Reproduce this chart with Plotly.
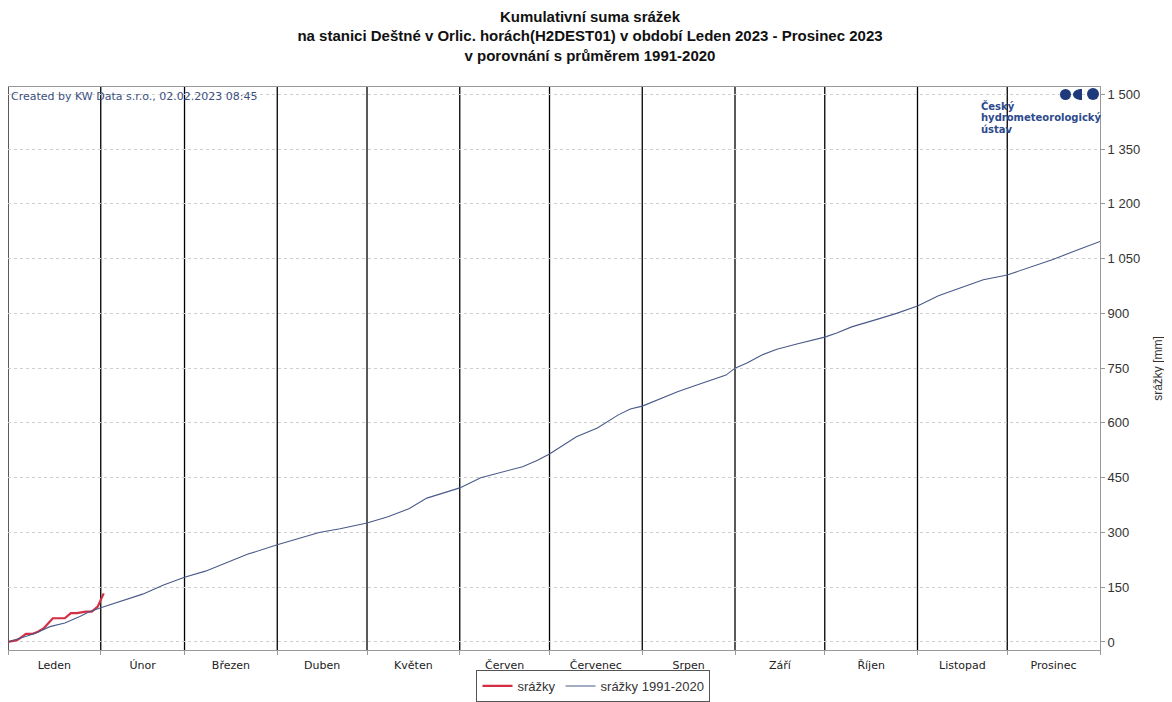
import pandas as pd
import plotly.graph_objects as go

# =====================================================
# Data
# =====================================================

# 2023 cumulative precipitation (mm)
rain_dates = [
    "2023-01-01", "2023-01-04", "2023-01-06", "2023-01-07", "2023-01-09",
    "2023-01-11", "2023-01-13", "2023-01-16", "2023-01-18", "2023-01-20",
    "2023-01-22", "2023-01-24", "2023-01-27", "2023-01-29", "2023-01-31",
    "2023-02-01", "2023-02-02",
]
rain_values = [0, 5, 16, 22, 22, 28, 38, 65, 65, 65, 79, 79, 83, 83, 97, 115, 133]

# 1991-2020 normal, cumulative (mm)
normal_dates = [
    "2023-01-01", "2023-01-05", "2023-01-10", "2023-01-15", "2023-01-20",
    "2023-01-25", "2023-01-28", "2023-02-01", "2023-02-08", "2023-02-15",
    "2023-02-22", "2023-03-01", "2023-03-08", "2023-03-15", "2023-03-22",
    "2023-04-01", "2023-04-08", "2023-04-15", "2023-04-22", "2023-05-01",
    "2023-05-08", "2023-05-15", "2023-05-21", "2023-06-01", "2023-06-08",
    "2023-06-15", "2023-06-22", "2023-06-27", "2023-07-01", "2023-07-10",
    "2023-07-17", "2023-07-24", "2023-07-28", "2023-08-01", "2023-08-06",
    "2023-08-13", "2023-08-19", "2023-08-24", "2023-08-29", "2023-09-01",
    "2023-09-05", "2023-09-10", "2023-09-15", "2023-09-22", "2023-10-01",
    "2023-10-05", "2023-10-10", "2023-10-19", "2023-10-25", "2023-11-01",
    "2023-11-08", "2023-11-15", "2023-11-23", "2023-12-01", "2023-12-08",
    "2023-12-16", "2023-12-24", "2023-12-31 23:59",
]
normal_values = [
    0, 10, 23, 42, 52, 70, 82, 94, 113, 131,
    156, 177, 194, 218, 240, 266, 284, 300, 310, 326,
    343, 365, 394, 422, 450, 465, 480, 498, 515, 562,
    586, 622, 638, 646, 662, 686, 703, 718, 731, 750,
    764, 786, 802, 817, 835, 846, 863, 885, 900, 920,
    948, 969, 992, 1005, 1024, 1047, 1072, 1097,
]

month_names = [
    "Leden", "Únor", "Březen", "Duben", "Květen", "Červen",
    "Červenec", "Srpen", "Září", "Říjen", "Listopad", "Prosinec",
]
y_ticks = [0, 150, 300, 450, 600, 750, 900, 1050, 1200, 1350, 1500]
y_tick_labels = ["0", "150", "300", "450", "600", "750", "900",
                 "1 050", "1 200", "1 350", "1 500"]
logo_lines = ["Český", "hydrometeorologický", "ústav"]

month_starts = pd.date_range("2023-01-01", periods=13, freq="MS")
month_mids = month_starts[:-1] + (month_starts[1:] - month_starts[:-1]) / 2

# =====================================================
# Figure
# =====================================================

fig = go.Figure()

fig.add_trace(
    go.Scatter(
        x=rain_dates,
        y=rain_values,
        name="srážky",
        mode="lines",
        line=dict(color="#d42e45", width=2.2),
    )
)

fig.add_trace(
    go.Scatter(
        x=normal_dates,
        y=normal_values,
        name="srážky 1991-2020",
        mode="lines",
        line=dict(color="#4a5a88", width=1.1),
    )
)

# month separators
for start in month_starts[:-1]:
    fig.add_vline(x=start, line=dict(color="#000", width=1.3), layer="below")

# stamp and logo
fig.add_annotation(
    text="Created by KW Data s.r.o., 02.02.2023 08:45",
    xref="paper", yref="paper", x=0, y=1,
    xanchor="left", yanchor="top", xshift=1, yshift=-1,
    showarrow=False,
    font=dict(family="DejaVu Sans", size=11, color="#3b5080"),
)
for i, line in enumerate(logo_lines):
    fig.add_annotation(
        text=f"<b>{line}</b>",
        xref="paper", yref="paper", x=0.889, y=1,
        xanchor="left", yanchor="middle", yshift=-19 - 11.5 * i,
        showarrow=False,
        font=dict(family="DejaVu Sans", size=10, color="#2c4a8c"),
    )

logo = dict(xref="paper", yref="paper", xanchor=1, yanchor=1,
            xsizemode="pixel", ysizemode="pixel",
            fillcolor="#1f3a7a", line=dict(width=0))
fig.add_shape(type="circle", x0=-40, x1=-29, y0=-13, y1=-2, **logo)
fig.add_shape(type="path", path="M -18,-2 C -30,-2 -30,-13 -18,-13 Z", **logo)
fig.add_shape(type="circle", x0=-13, x1=-1, y0=-13, y1=-1, **logo)

# =====================================================
# Layout
# =====================================================

fig.update_layout(
    width=1164,
    height=694,
    paper_bgcolor="white",
    plot_bgcolor="white",
    margin=dict(l=0, r=72, t=79, b=52, autoexpand=False),
    title=dict(
        text="<b>Kumulativní suma srážek<br>"
             "na stanici Deštné v Orlic. horách(H2DEST01) v období Leden 2023 - Prosinec 2023<br>"
             "v porovnání s průměrem 1991-2020</b>",
        x=0.5, xanchor="center", xref="container",
        y=0.98, yanchor="top", yref="container",
        font=dict(family="Liberation Sans", size=15, color="#111"),
    ),
    legend=dict(
        orientation="h",
        xref="container", yref="container",
        x=0.503, xanchor="center", y=-0.004, yanchor="bottom",
        bordercolor="#555", borderwidth=1,
        font=dict(family="Liberation Sans", size=13, color="#333"),
        itemwidth=30,
        tracegroupgap=0,
    ),
    showlegend=True,
)

fig.update_xaxes(
    range=["2023-01-01", "2024-01-01"],
    tickmode="array",
    tickvals=month_mids,
    ticktext=month_names,
    ticks="",
    ticklabelstandoff=5,
    showgrid=False,
    showline=True,
    linecolor="#999",
    mirror=True,
    tickfont=dict(family="DejaVu Sans", size=11, color="#222"),
    minor=dict(
        tickmode="array",
        tickvals=month_starts,
        showgrid=False,
        ticks="outside",
        ticklen=4,
        tickcolor="#999",
    ),
)

fig.update_yaxes(
    side="right",
    range=[-22, 1520],
    tickmode="array",
    tickvals=y_ticks,
    ticktext=y_tick_labels,
    ticks="outside",
    ticklen=4,
    tickcolor="#999",
    showline=True,
    linecolor="#999",
    showgrid=True,
    gridcolor="#cfcfcf",
    griddash="3px,3px",
    zeroline=False,
    tickfont=dict(family="Liberation Sans", size=13, color="#333"),
    title=dict(text="srážky [mm]", standoff=14,
               font=dict(family="Liberation Sans", size=12, color="#333")),
)

fig.write_html("out.html")
